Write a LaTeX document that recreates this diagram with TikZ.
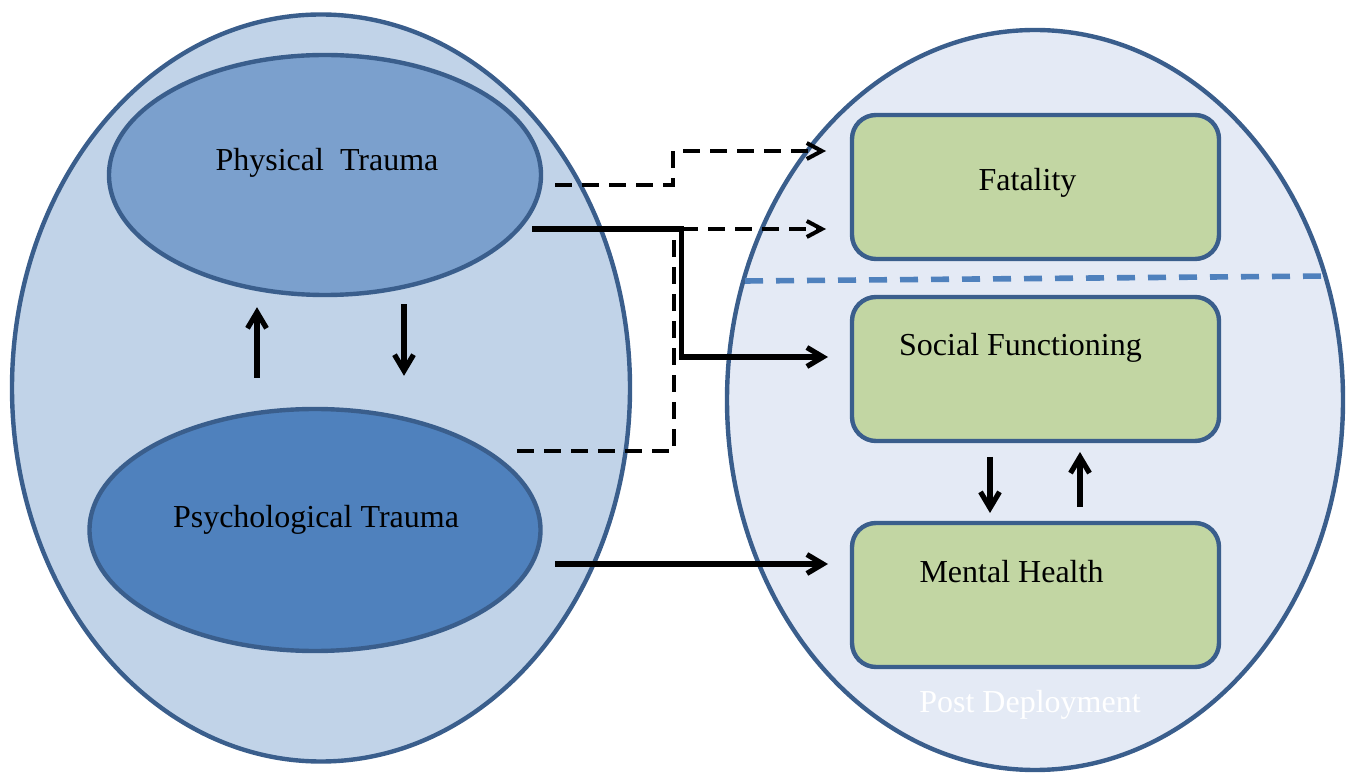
\documentclass[tikz,border=0pt]{standalone}
\usepackage{fontspec}
\setmainfont{Liberation Serif}
\usetikzlibrary{shapes.geometric, arrows.meta, positioning}

\definecolor{preblue}{RGB}{193,211,232}
\definecolor{postblue}{RGB}{228,234,245}
\definecolor{physblue}{RGB}{123,160,205}
\definecolor{psychblue}{RGB}{79,129,189}
\definecolor{edgeblue}{RGB}{58,94,140}
\definecolor{boxgreen}{RGB}{194,214,163}

\begin{document}
\begin{tikzpicture}[x=0.5pt, y=-0.5pt,
    every node/.style={font=\fontsize{16}{19}\selectfont},
    node distance=19pt,
    zone/.style={ellipse, draw=edgeblue, line width=2.2pt, inner sep=0pt},
    trauma/.style={ellipse, draw=edgeblue, line width=2.2pt, inner sep=0pt},
    outcome/.style={rectangle, rounded corners=12pt, draw=edgeblue, line width=2.2pt, fill=boxgreen, minimum width=183.5pt, minimum height=72pt, inner sep=0pt, outer sep=0pt},
    arrow/.style={line width=2.6pt, -{Straight Barb[length=8pt,width=9.5pt]}},
    dasharrow/.style={line width=2pt, dash pattern=on 8.5pt off 5pt, -{Straight Barb[length=7.5pt,width=8pt]}},
    dashline/.style={line width=2pt, dash pattern=on 8.5pt off 5pt},
    divider/.style={line width=2.8pt, draw=psychblue, dash pattern=on 9pt off 6.5pt}
    ]
    \useasboundingbox (0,0) rectangle (1354,774);

    % Zones
    \node (pre) [zone, fill=preblue, minimum width=309pt, minimum height=373.5pt] at (321,388) {};
    \node (post) [zone, fill=postblue, minimum width=308pt, minimum height=370pt] at (1035,400) {};

    % Trauma
    \node (physical) [trauma, fill=physblue, minimum width=216pt, minimum height=120pt,
        label={[xshift=1pt, yshift=6pt]center:Physical~~Trauma}] at (325,175) {};
    \node (psych) [trauma, fill=psychblue, minimum width=225.5pt, minimum height=121pt,
        label={[xshift=0.5pt, yshift=5pt]center:Psychological Trauma}] at (315,530) {};

    % Outcomes
    \node (fatality) [outcome, label={[xshift=-4pt, yshift=2pt]center:Fatality}] at (1035.5,187) {};
    \node (social) [outcome, below=of fatality, label={[xshift=-7.5pt, yshift=10.5pt]center:Social Functioning}] {};
    \node (mental) [outcome, below=41pt of social, label={[xshift=-12pt, yshift=11.5pt]center:Mental Health}] {};
    \node (postlabel) [text=white] at (1030,705) {Post Deployment};

    % Divider
    \draw [divider] (745,281) -- (1328,276);

    % Arrows - Trauma
    \draw [arrow, shorten <=14.5pt, shorten >=5pt] ([xshift=-29pt]psych.north) -- ([xshift=-34pt]physical.south);
    \draw [arrow, shorten <=3.5pt, shorten >=15.5pt] ([xshift=39.5pt]physical.south) -- ([xshift=44.5pt]psych.north);

    % Arrows - Outcomes
    \coordinate (psychout) at ([xshift=6.25pt, yshift=-17pt]psych.east);
    \draw [dasharrow, shorten >=13pt] ([xshift=6pt, yshift=-5pt]physical.east) -- ++(118,0) |- ([yshift=18pt]fatality.west);
    \draw [arrow, shorten >=12pt] ([xshift=-5.5pt, yshift=-27pt]physical.east) -- ++(149,0) coordinate (split) |- ([yshift=6pt]social.west);
    \draw [dasharrow, shorten >=13pt] (split) -- (split -| fatality.west);
    \draw [dashline] ([xshift=-12.75pt, yshift=39.5pt]psych.east) -| ([xshift=-3.5pt]split);
    \draw [arrow, shorten >=12pt] (psychout) -- (psychout -| mental.west);

    % Arrows - Social / Mental
    \draw [arrow, shorten <=8pt, shorten >=5pt] ([xshift=-22.75pt]social.south) -- ([xshift=-22.75pt]mental.north);
    \draw [arrow, shorten <=8pt, shorten >=5.5pt] ([xshift=22.25pt]mental.north) -- ([xshift=22.25pt]social.south);

\end{tikzpicture}
\end{document}
